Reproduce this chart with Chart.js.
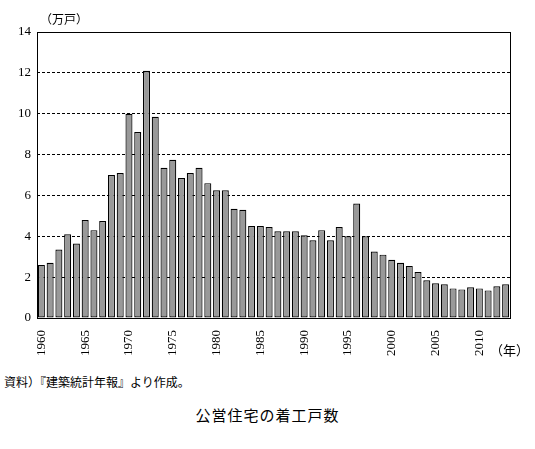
<!DOCTYPE html>
<html><head><meta charset="utf-8">
<script src="https://cdn.jsdelivr.net/npm/chart.js@4"></script>
<style>
body{margin:0;background:#fff;font-family:"Liberation Serif","Noto Sans CJK JP",serif;}
#wrap{position:relative;width:535px;height:449px;}
.t{position:absolute;font-size:12px;color:#000;white-space:nowrap;}
</style></head><body>
<div id="wrap">
<div style="position:absolute;left:0;top:0;width:535px;height:370px;"><canvas id="c"></canvas></div>
<div class="t" style="left:40px;top:10px;">（万戸）</div>
<div class="t" style="left:490px;top:340px;font-size:13px;">（年）</div>
<div class="t" style="left:4px;top:373px;">資料）『建築統計年報』より作成。</div>
<div class="t" style="left:0;width:535px;text-align:center;top:404px;font-size:15px;letter-spacing:1px;">公営住宅の着工戸数</div>
</div>
<script>
const years=[];for(let y=1960;y<=2013;y++)years.push(String(y));
const values=[2.6,2.7,3.35,4.1,3.65,4.8,4.3,4.75,7.0,7.1,10.0,9.1,12.1,9.85,7.35,7.75,6.85,7.1,7.35,6.6,6.25,6.25,5.35,5.3,4.5,4.5,4.45,4.25,4.25,4.25,4.05,3.8,4.3,3.8,4.45,4.0,5.6,4.0,3.25,3.1,2.85,2.7,2.55,2.25,1.85,1.7,1.65,1.45,1.4,1.5,1.45,1.35,1.55,1.65];
const yTicks=[0,2,4,6,8,10,12,14];
const font={family:"Liberation Serif",size:13};
new Chart(document.getElementById('c'),{
type:'bar',
data:{labels:years,datasets:[{data:values,backgroundColor:'#999999',borderColor:'#000',borderWidth:1.2,borderSkipped:false,barPercentage:0.8,categoryPercentage:1}]},
options:{responsive:true,maintainAspectRatio:false,animation:false,
layout:{padding:{top:32,right:25,left:0,bottom:0}},
plugins:{legend:{display:false},tooltip:{enabled:false}},
scales:{
x:{grid:{display:false},border:{display:false},
ticks:{autoSkip:false,minRotation:90,maxRotation:90,color:'#000',font,padding:4,
callback:(v,i)=>(+years[i])%5===0?years[i]:''},
afterFit:s=>{s.height=52;}},
y:{min:0,max:14,afterBuildTicks:s=>{s.ticks=yTicks.map(v=>({value:v}));},
grid:{color:'#000',lineWidth:1,drawTicks:false},border:{display:false,dash:[3,2]},
ticks:{color:'#000',font,padding:6},afterFit:s=>{s.width=37;}}
}},
plugins:[{id:'box',
afterDraw(ch){const a=ch.chartArea,c=ch.ctx;c.save();c.strokeStyle='#000';c.lineWidth=1;c.setLineDash([]);c.strokeRect(a.left+0.5,a.top+0.5,a.right-a.left,a.bottom-a.top);c.restore();}}]
});
</script></body></html>
